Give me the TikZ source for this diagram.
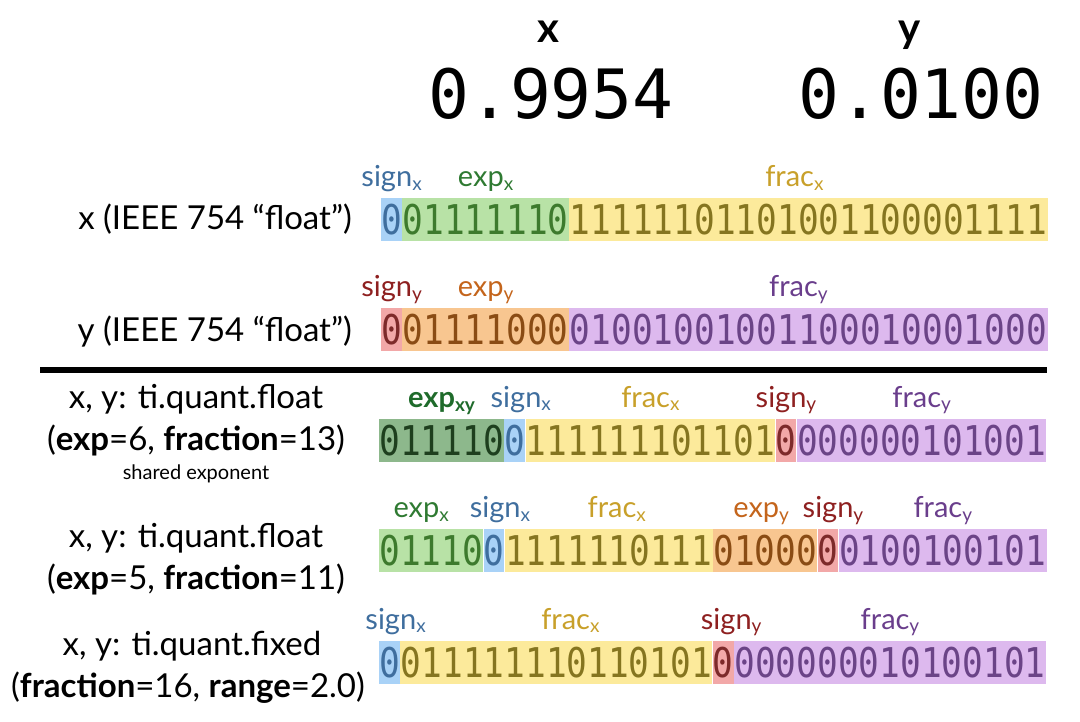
\documentclass[tikz,border=0pt]{standalone}
\usepackage{fontspec}
\setmainfont{Lato}
\newfontfamily\bitfont[FakeStretch=0.84]{DejaVu Sans Mono}
\newfontfamily\numfont{DejaVu Sans Mono}
\usetikzlibrary{positioning}
\definecolor{signxfill}{HTML}{A9D2F7}
\definecolor{signxtext}{HTML}{3F6E9E}
\definecolor{expxfill}{HTML}{B8E2A6}
\definecolor{expxtext}{HTML}{3D7A2D}
\definecolor{expxlbl}{HTML}{2F7A32}
\definecolor{fracxfill}{HTML}{FCEA9B}
\definecolor{fracxtext}{HTML}{857520}
\definecolor{fracxlbl}{HTML}{C8A02A}
\definecolor{signyfill}{HTML}{F2A8A8}
\definecolor{signytext}{HTML}{7D2A2A}
\definecolor{signylbl}{HTML}{8E2020}
\definecolor{expyfill}{HTML}{F8C690}
\definecolor{expytext}{HTML}{8A4C14}
\definecolor{expylbl}{HTML}{C4651C}
\definecolor{fracyfill}{HTML}{DDB9EE}
\definecolor{fracytext}{HTML}{6B4487}
\definecolor{fracylbl}{HTML}{6A3E8C}
\definecolor{expxyfill}{HTML}{8DB88C}
\definecolor{expxytext}{HTML}{1E3F1E}
\definecolor{expxylbl}{HTML}{1F6B2B}
\newcommand{\sub}[1]{\raisebox{-0.25ex}{\fontsize{19}{19}\selectfont #1}}
\newcommand{\bw}{20.8pt}
\tikzset{
  field/.style={inner sep=0pt,minimum height=43pt,text height=30pt,text depth=0pt,
    font=\fontsize{41}{41}\bitfont,anchor=west},
  signx/.style={fill=signxfill,text=signxtext},
  expx/.style={fill=expxfill,text=expxtext},
  fracx/.style={fill=fracxfill,text=fracxtext},
  signy/.style={fill=signyfill,text=signytext},
  expy/.style={fill=expyfill,text=expytext},
  fracy/.style={fill=fracyfill,text=fracytext},
  expxy/.style={fill=expxyfill,text=expxytext},
  tag/.style={font=\fontsize{29}{29}\selectfont,anchor=base,inner sep=0pt},
  caption/.style={font=\fontsize{33}{33}\selectfont,anchor=base,inner sep=0pt},
  small/.style={font=\fontsize{20}{20}\selectfont,anchor=base,inner sep=0pt}
}
\begin{document}
\begin{tikzpicture}[x=1pt,y=-1pt]
  \useasboundingbox (0,0) rectangle (1080,721);
  % values
  \node[anchor=base,font=\fontsize{42}{42}\bfseries] (xname) at (548,42) {x};
  \node[anchor=base,font=\fontsize{42}{42}\bfseries] (yname) at (910,42) {y};
  \node[anchor=base,font=\fontsize{68}{68}\numfont] (xval) at (551,118) {0.9954};
  \node[anchor=base,font=\fontsize{68}{68}\numfont] (yval) at (921,118) {0.0100};
  % IEEE 754 x
  \node[caption,anchor=base east] (xcap) at (352,229) {x (IEEE 754 “float”)};
  \node[field,signx,minimum width=\bw] (xsign) at (381,219.5) {0};
  \node[field,expx,minimum width=8*\bw,right=0pt of xsign] (xexp) {01111110};
  \node[field,fracx,minimum width=23*\bw,right=0pt of xexp] (xfrac) {11111101101001100001111};
  \node[tag,text=signxtext] (xsignt) at ([yshift=11pt]xsign.north) {sign\sub{x}};
  \node[tag,text=expxlbl] (xexpt) at ([yshift=11pt]xexp.north) {exp\sub{x}};
  \node[tag,text=fracxlbl,xshift=-14pt] (xfract) at ([yshift=11pt]xfrac.north) {frac\sub{x}};
  % IEEE 754 y
  \node[caption,anchor=base east] (ycap) at (352,341) {y (IEEE 754 “float”)};
  \node[field,signy,minimum width=\bw] (ysign) at (381,329.5) {0};
  \node[field,expy,minimum width=8*\bw,right=0pt of ysign] (yexp) {01111000};
  \node[field,fracy,minimum width=23*\bw,right=0pt of yexp] (yfrac) {01001001001100010001000};
  \node[tag,text=signylbl] (ysignt) at ([yshift=11pt]ysign.north) {sign\sub{y}};
  \node[tag,text=expylbl] (yexpt) at ([yshift=11pt]yexp.north) {exp\sub{y}};
  \node[tag,text=fracylbl,xshift=-10pt] (yfract) at ([yshift=11pt]yfrac.north) {frac\sub{y}};
  % separator
  \coordinate (sepl) at (40,370);
  \coordinate (sepr) at (1047,370);
  \draw[line width=6pt] (sepl) -- (sepr);
  % shared exponent
  \node[caption] (qacap) at (196,408) {x, y: ti.quant.float};
  \node[caption] (qacapb) at (196,450) {(\textbf{exp}=6, \textbf{fraction}=13)};
  \node[small] (qanote) at (196,479) {shared exponent};
  \node[field,expxy,minimum width=6*\bw] (qaexp) at (379,440) {011110};
  \node[field,signx,minimum width=\bw,right=0pt of qaexp] (qasignx) {0};
  \node[field,fracx,minimum width=12*\bw,right=0pt of qasignx] (qafracx) {111111101101};
  \node[field,signy,minimum width=\bw,right=0pt of qafracx] (qasigny) {0};
  \node[field,fracy,minimum width=12*\bw,right=0pt of qasigny] (qafracy) {000000101001};
  \node[tag,text=expxylbl] (qaexpt) at ([yshift=11pt]qaexp.north) {\textbf{exp\sub{xy}}};
  \node[tag,text=signxtext,xshift=6pt] (qasignxt) at ([yshift=11pt]qasignx.north) {sign\sub{x}};
  \node[tag,text=fracxlbl] (qafracxt) at ([yshift=11pt]qafracx.north) {frac\sub{x}};
  \node[tag,text=signylbl] (qasignyt) at ([yshift=11pt]qasigny.north) {sign\sub{y}};
  \node[tag,text=fracylbl] (qafracyt) at ([yshift=11pt]qafracy.north) {frac\sub{y}};
  % separate exponents
  \node[caption] (qbcap) at (196,547) {x, y: ti.quant.float};
  \node[caption] (qbcapb) at (196,589) {(\textbf{exp}=5, \textbf{fraction}=11)};
  \node[field,expx,minimum width=5*\bw] (qbexpx) at (379,550.5) {01110};
  \node[field,signx,minimum width=\bw,right=0pt of qbexpx] (qbsignx) {0};
  \node[field,fracx,minimum width=10*\bw,right=0pt of qbsignx] (qbfracx) {1111110111};
  \node[field,expy,minimum width=5*\bw,right=0pt of qbfracx] (qbexpy) {01000};
  \node[field,signy,minimum width=\bw,right=0pt of qbexpy] (qbsigny) {0};
  \node[field,fracy,minimum width=10*\bw,right=0pt of qbsigny] (qbfracy) {0100100101};
  \node[tag,text=expxlbl,xshift=-10pt] (qbexpxt) at ([yshift=11pt]qbexpx.north) {exp\sub{x}};
  \node[tag,text=signxtext,xshift=6pt] (qbsignxt) at ([yshift=11pt]qbsignx.north) {sign\sub{x}};
  \node[tag,text=fracxlbl,xshift=8pt] (qbfracxt) at ([yshift=11pt]qbfracx.north) {frac\sub{x}};
  \node[tag,text=expylbl,xshift=-4pt] (qbexpyt) at ([yshift=11pt]qbexpy.north) {exp\sub{y}};
  \node[tag,text=signylbl,xshift=5pt] (qbsignyt) at ([yshift=11pt]qbsigny.north) {sign\sub{y}};
  \node[tag,text=fracylbl] (qbfracyt) at ([yshift=11pt]qbfracy.north) {frac\sub{y}};
  % fixed point
  \node[caption] (qccap) at (192,655) {x, y: ti.quant.fixed};
  \node[caption] (qccapb) at (188,697) {(\textbf{fraction}=16, \textbf{range}=2.0)};
  \node[field,signx,minimum width=\bw] (qcsignx) at (379,662) {0};
  \node[field,fracx,minimum width=15*\bw,right=0pt of qcsignx] (qcfracx) {011111110110101};
  \node[field,signy,minimum width=\bw,right=0pt of qcfracx] (qcsigny) {0};
  \node[field,fracy,minimum width=15*\bw,right=0pt of qcsigny] (qcfracy) {000000010100101};
  \node[tag,text=signxtext,xshift=6pt] (qcsignxt) at ([yshift=11pt]qcsignx.north) {sign\sub{x}};
  \node[tag,text=fracxlbl,xshift=14pt] (qcfracxt) at ([yshift=11pt]qcfracx.north) {frac\sub{x}};
  \node[tag,text=signylbl,xshift=8pt] (qcsignyt) at ([yshift=11pt]qcsigny.north) {sign\sub{y}};
  \node[tag,text=fracylbl] (qcfracyt) at ([yshift=11pt]qcfracy.north) {frac\sub{y}};
\end{tikzpicture}
\end{document}
